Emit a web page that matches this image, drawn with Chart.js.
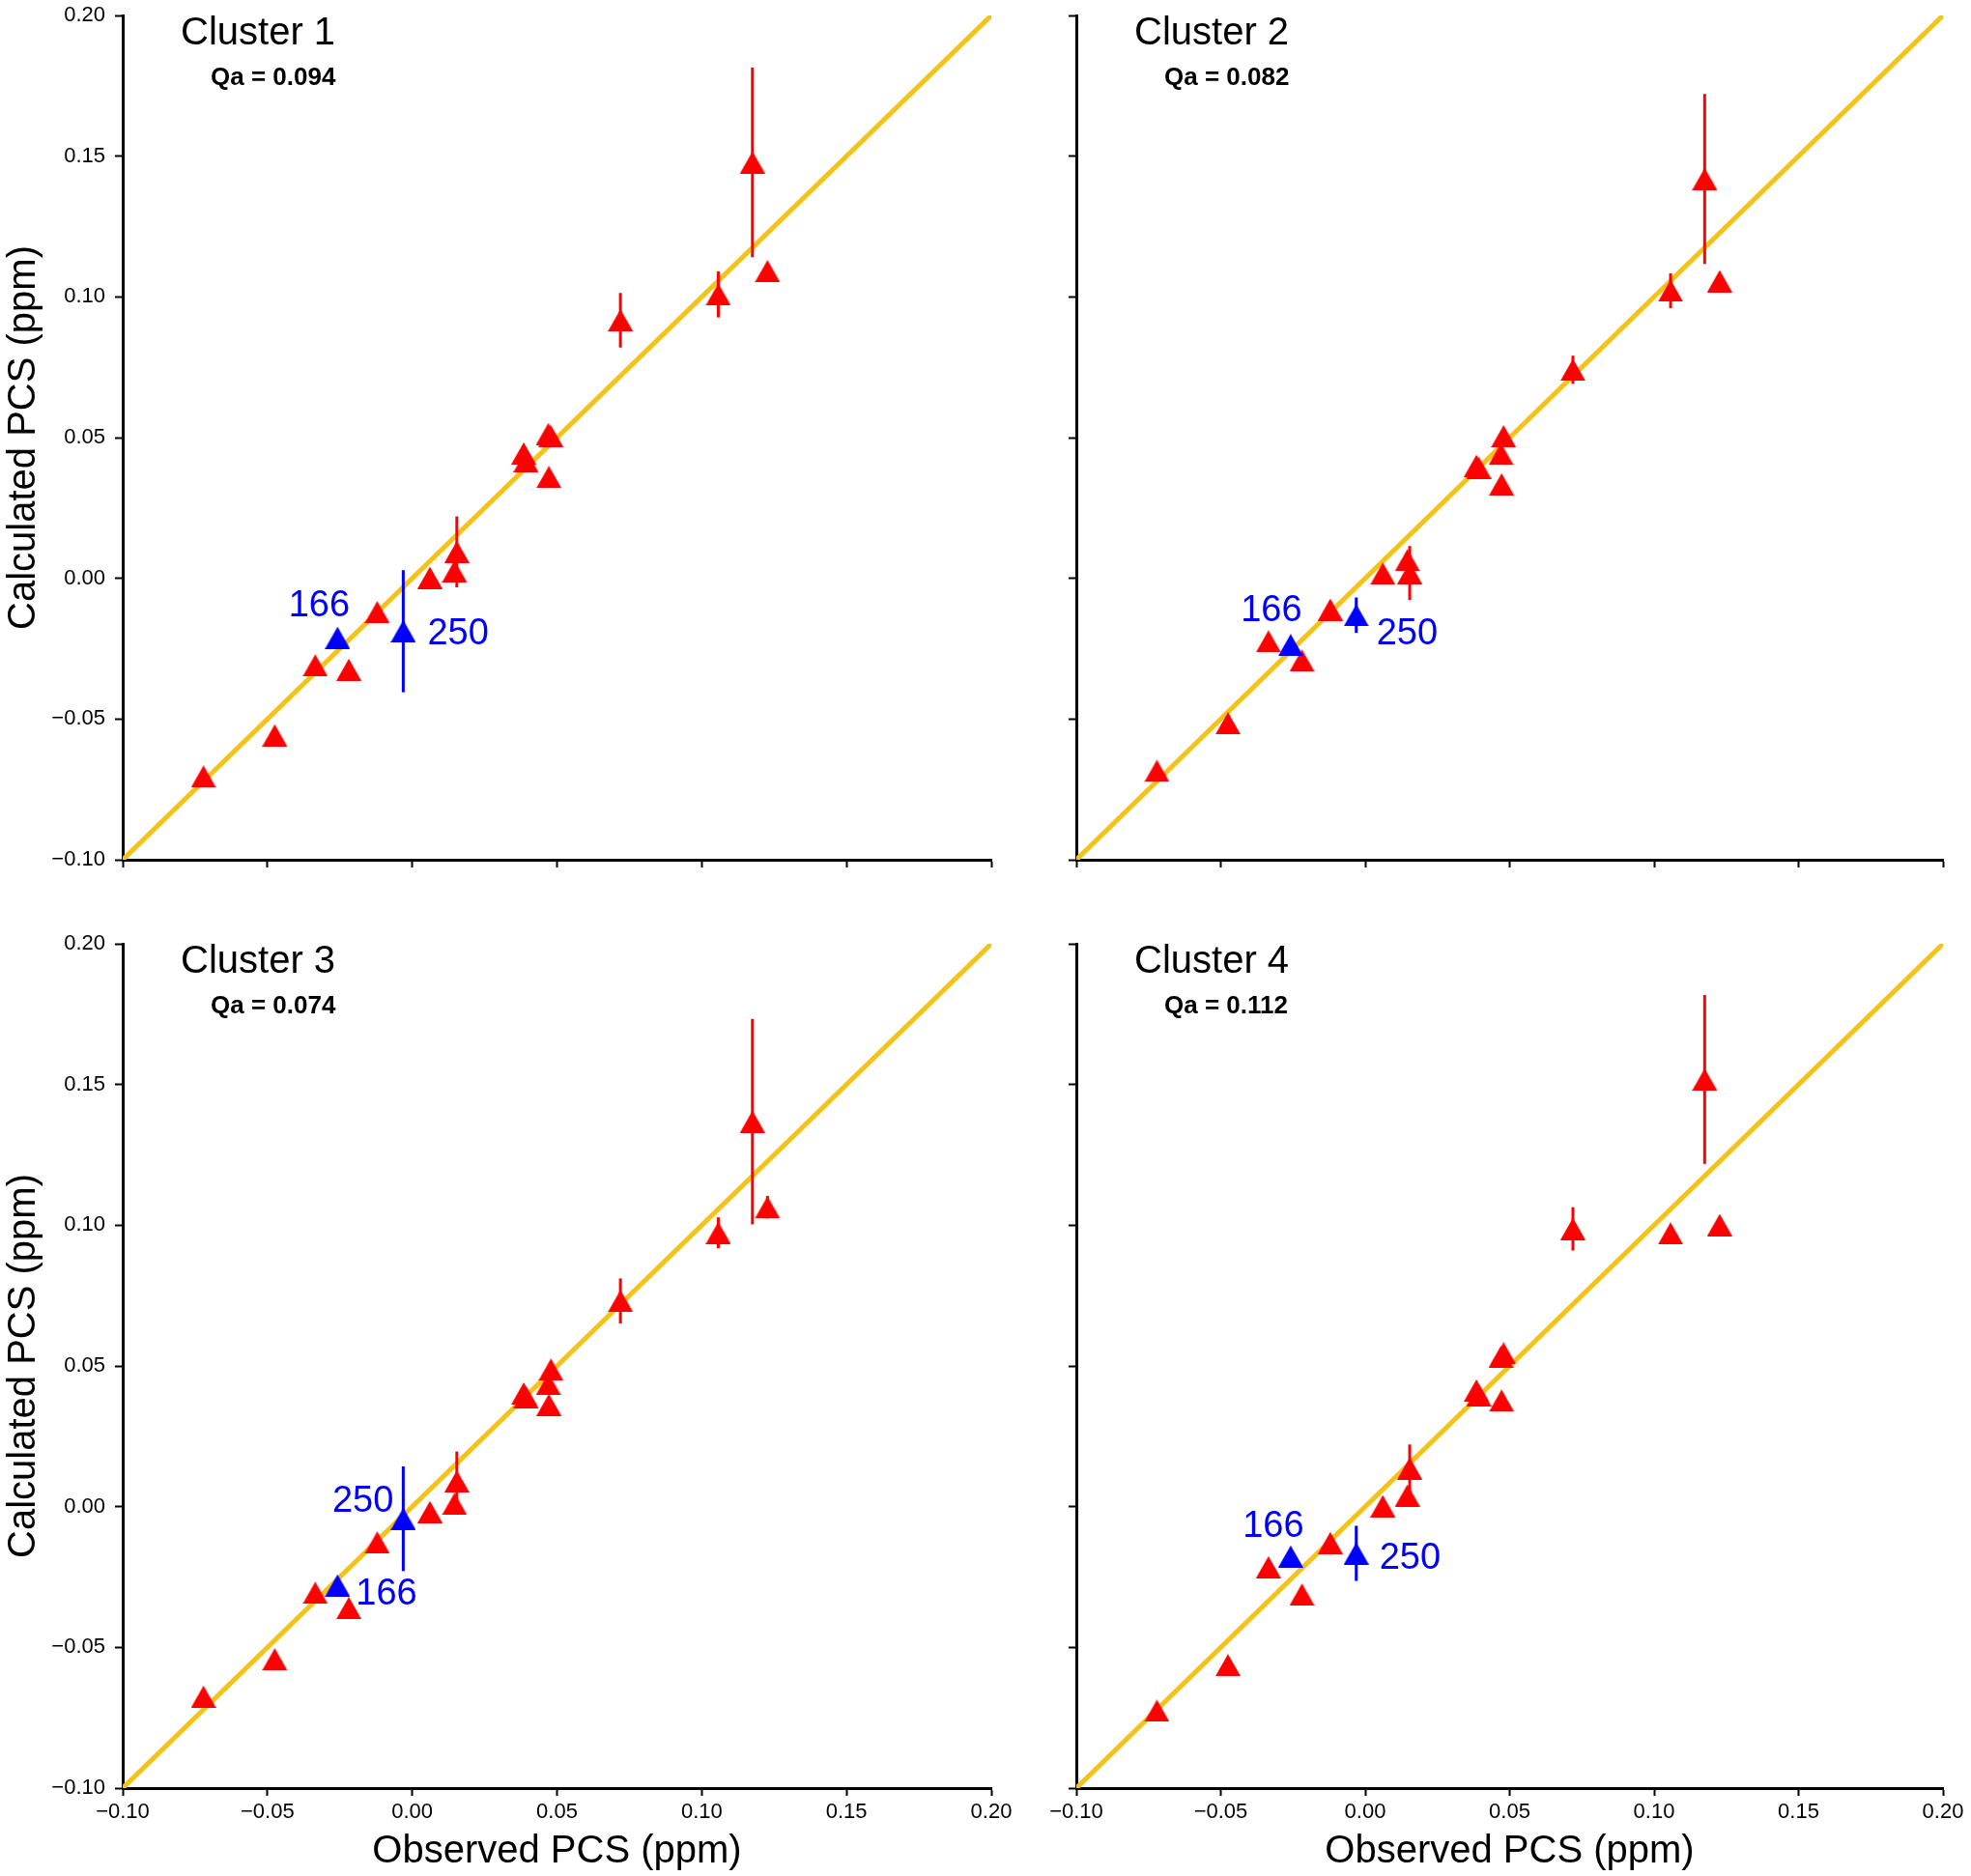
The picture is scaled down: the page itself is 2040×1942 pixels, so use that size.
<!DOCTYPE html>
<html><head><meta charset="utf-8">
<script src="https://cdn.jsdelivr.net/npm/chart.js@4.4.1/dist/chart.umd.min.js"></script>
<style>
html,body{margin:0;padding:0;background:#fff;}
body{width:2040px;height:1942px;position:relative;overflow:hidden;}
canvas{position:absolute;}
</style></head><body>
<canvas id="c1" width="1060" height="960" style="left:0px;top:0px;width:1060px;height:960px"></canvas>
<canvas id="c2" width="1000" height="960" style="left:1040px;top:0px;width:1000px;height:960px"></canvas>
<canvas id="c3" width="1060" height="982" style="left:0px;top:960px;width:1060px;height:982px"></canvas>
<canvas id="c4" width="1000" height="982" style="left:1040px;top:960px;width:1000px;height:982px"></canvas>
<script>
// ---------------- DATA ----------------
const clusterTitles = ['Cluster 1', 'Cluster 2', 'Cluster 3', 'Cluster 4'];
const qaLabels = ['Qa = 0.094', 'Qa = 0.082', 'Qa = 0.074', 'Qa = 0.112'];
const axisTicks = [-0.10, -0.05, 0.00, 0.05, 0.10, 0.15, 0.20];
const identityLine = [-0.10, 0.20];

// observed PCS (same in every cluster)
const observedRed = [-0.0721, -0.0475, -0.0335, -0.0219, -0.0121, 0.0061, 0.0146, 0.0154, 0.0385, 0.0393, 0.0470, 0.0479, 0.0472, 0.0719, 0.1057, 0.1175, 0.1227];
const blueResidues = ['166', '250'];
const observedBlue = [-0.0258, -0.0031];

// calculated PCS and errors per cluster
const cluster1Red = [-0.0704, -0.0558, -0.0309, -0.0325, -0.0120, 0.0002, 0.0025, 0.0094, 0.0444, 0.0417, 0.0513, 0.0505, 0.0360, 0.0917, 0.1009, 0.1478, 0.1092];
const cluster1RedErr = [0, 0, 0, 0, 0, 0, 0.003, 0.0126, 0, 0, 0, 0, 0, 0.0097, 0.0082, 0.0337, 0.001];
const cluster1Blue = [-0.0211, -0.0188];
const cluster1BlueErr = [0, 0.0217];

const cluster2Red = [-0.0684, -0.0515, -0.0224, -0.0292, -0.0111, 0.0017, 0.0065, 0.0019, 0.0400, 0.0393, 0.0442, 0.0505, 0.0334, 0.0741, 0.1022, 0.1419, 0.1056];
const cluster2RedErr = [0, 0, 0, 0, 0, 0, 0, 0.0096, 0, 0, 0, 0, 0, 0.005, 0.0062, 0.0302, 0];
const cluster2Blue = [-0.0237, -0.0131];
const cluster2BlueErr = [0, 0.0063];

const cluster3Red = [-0.0675, -0.0542, -0.0306, -0.0360, -0.0127, -0.0019, 0.0010, 0.0090, 0.0402, 0.0390, 0.0436, 0.0487, 0.0362, 0.0731, 0.0973, 0.1368, 0.1064];
const cluster3RedErr = [0, 0, 0, 0, 0, 0, 0, 0.0106, 0, 0, 0, 0, 0, 0.008, 0.0055, 0.0365, 0.004];
const cluster3Blue = [-0.0280, -0.0043];
const cluster3BlueErr = [0, 0.0186];

const cluster4Red = [-0.0725, -0.0563, -0.0215, -0.0312, -0.0129, 0.0002, 0.0040, 0.0136, 0.0413, 0.0396, 0.0533, 0.0545, 0.0377, 0.0987, 0.0971, 0.1518, 0.1001];
const cluster4RedErr = [0, 0, 0, 0, 0, 0, 0, 0.0085, 0, 0, 0, 0, 0, 0.0077, 0.002, 0.030, 0];
const cluster4Blue = [-0.0177, -0.0166];
const cluster4BlueErr = [0, 0.0098];

// ---------------- STYLE ----------------
const FONT = '"Liberation Sans", Arial, Helvetica, sans-serif';
const GOLD = '#F5C318';
const RED = '#FF0000';
const BLUE = '#0000FF';

function makeTriangle(color) {
  const w = 26, h = 23;
  const c = document.createElement('canvas');
  c.width = w; c.height = h;
  const g = c.getContext('2d');
  g.fillStyle = color;
  g.beginPath();
  g.moveTo(w / 2, 0); g.lineTo(w, h); g.lineTo(0, h); g.closePath();
  g.fill();
  return c;
}
const redTri = makeTriangle(RED);
const blueTri = makeTriangle(BLUE);

function fmt(v) {
  const s = Math.abs(v) < 1e-9 ? '0.00' : v.toFixed(2);
  return s.replace('-', '\u2212');
}

const panelPlugin = {
  id: 'panelDecor',
  afterDatasetDraw(chart, args) {
    if (args.index !== 0) return;
    const xs = chart.scales.x, ys = chart.scales.y, ctx = chart.ctx;
    chart.data.datasets.forEach(ds => {
      if (!ds.errors) return;
      ctx.save();
      ctx.strokeStyle = ds.errColor;
      ctx.lineWidth = 3;
      ds.data.forEach((pt, i) => {
        const e = ds.errors[i];
        if (!e) return;
        const px = xs.getPixelForValue(pt.x);
        ctx.beginPath();
        ctx.moveTo(px, ys.getPixelForValue(pt.y - e));
        ctx.lineTo(px, ys.getPixelForValue(pt.y + e));
        ctx.stroke();
      });
      ctx.restore();
    });
  },
  afterDraw(chart, args, opts) {
    const ctx = chart.ctx, a = chart.chartArea;
    ctx.save();
    ctx.fillStyle = '#000';
    ctx.textBaseline = 'middle';
    ctx.textAlign = 'left';
    ctx.font = '40px ' + FONT;
    ctx.fillText(opts.title, a.left + 60, a.top + 18.5);
    ctx.font = 'bold 26px ' + FONT;
    ctx.fillText(opts.qa, a.left + 91, a.top + 65);
    const ds = chart.data.datasets[2];
    const meta = chart.getDatasetMeta(2);
    ctx.font = '38px ' + FONT;
    ctx.fillStyle = BLUE;
    meta.data.forEach((el, i) => {
      const pl = opts.labelPlace[i];
      ctx.textAlign = pl.align;
      ctx.fillText(ds.residues[i], el.x + pl.dx, el.y + pl.dy);
    });
    ctx.restore();
  }
};

const panels = [
  { id: 'c1', title: clusterTitles[0], qa: qaLabels[0], red: cluster1Red, redErr: cluster1RedErr, blue: cluster1Blue, blueErr: cluster1BlueErr,
    xLabels: false, yLabels: true, xTitle: false, yTitle: true, yAxisW: 127, xAxisH: 70, padTop: 16, padRight: 34,
    labelPlace: [{dx: -19, dy: -33, align: 'center'}, {dx: 25, dy: 3, align: 'left'}] },
  { id: 'c2', title: clusterTitles[1], qa: qaLabels[1], red: cluster2Red, redErr: cluster2RedErr, blue: cluster2Blue, blueErr: cluster2BlueErr,
    xLabels: false, yLabels: false, xTitle: false, yTitle: false, yAxisW: 74, xAxisH: 70, padTop: 16, padRight: 29,
    labelPlace: [{dx: -20, dy: -35, align: 'center'}, {dx: 21, dy: 20, align: 'left'}] },
  { id: 'c3', title: clusterTitles[2], qa: qaLabels[2], red: cluster3Red, redErr: cluster3RedErr, blue: cluster3Blue, blueErr: cluster3BlueErr,
    xLabels: true, yLabels: true, xTitle: true, yTitle: true, yAxisW: 127, xAxisH: 91, padTop: 17, padRight: 34,
    labelPlace: [{dx: 19, dy: 9, align: 'left'}, {dx: -10, dy: -18, align: 'right'}] },
  { id: 'c4', title: clusterTitles[3], qa: qaLabels[3], red: cluster4Red, redErr: cluster4RedErr, blue: cluster4Blue, blueErr: cluster4BlueErr,
    xLabels: true, yLabels: false, xTitle: true, yTitle: false, yAxisW: 74, xAxisH: 91, padTop: 17, padRight: 29,
    labelPlace: [{dx: -18, dy: -31, align: 'center'}, {dx: 24, dy: 5, align: 'left'}] }
];

function axisCommon() {
  return {
    grid: { display: true, drawOnChartArea: false, drawTicks: true, tickLength: 8, tickWidth: 2, tickColor: '#000' },
    border: { display: true, color: '#000', width: 3 }
  };
}

panels.forEach(p => {
  new Chart(document.getElementById(p.id), {
    type: 'scatter',
    data: {
      datasets: [
        { type: 'line', label: 'identity', data: identityLine.map(v => ({x: v, y: v})),
          borderColor: GOLD, borderWidth: 5, pointRadius: 0, pointHoverRadius: 0, fill: false, tension: 0, order: 2 },
        { label: 'red', data: observedRed.map((x, i) => ({x: x, y: p.red[i]})),
          pointStyle: redTri, pointRadius: 12, pointHoverRadius: 12, order: 1,
          errors: p.redErr, errColor: RED },
        { label: 'blue', data: observedBlue.map((x, i) => ({x: x, y: p.blue[i]})),
          pointStyle: blueTri, pointRadius: 12, pointHoverRadius: 12, order: 0,
          errors: p.blueErr, errColor: BLUE, residues: blueResidues }
      ]
    },
    options: {
      responsive: false,
      animation: false,
      devicePixelRatio: 1,
      layout: { padding: { top: p.padTop, right: p.padRight, left: 0, bottom: 0 } },
      plugins: {
        legend: { display: false },
        tooltip: { enabled: false },
        panelDecor: { title: p.title, qa: p.qa, labelPlace: p.labelPlace }
      },
      scales: {
        x: Object.assign(axisCommon(), {
          type: 'linear', position: 'bottom', min: axisTicks[0], max: axisTicks[axisTicks.length - 1],
          afterFit: s => { s.height = p.xAxisH; s.paddingLeft = 0; s.paddingRight = 0; },
          afterBuildTicks: s => { s.ticks = axisTicks.map(v => ({value: v})); },
          ticks: { padding: 4, color: '#000', font: {family: FONT, size: 22}, maxRotation: 0, autoSkip: false,
                   callback: v => p.xLabels ? fmt(v) : '' },
          title: { display: p.xTitle, text: 'Observed PCS (ppm)', color: '#000',
                   font: {family: FONT, size: 40, lineHeight: 1.2}, padding: {top: 0, bottom: 1} }
        }),
        y: Object.assign(axisCommon(), {
          type: 'linear', position: 'left', min: axisTicks[0], max: axisTicks[axisTicks.length - 1],
          afterFit: s => { s.width = p.yAxisW; s.paddingTop = 0; s.paddingBottom = 0; },
          afterBuildTicks: s => { s.ticks = axisTicks.map(v => ({value: v})); },
          ticks: { padding: 10, color: '#000', font: {family: FONT, size: 22}, autoSkip: false,
                   callback: v => p.yLabels ? fmt(v) : '' },
          title: { display: p.yTitle, text: 'Calculated PCS (ppm)', color: '#000',
                   font: {family: FONT, size: 40, lineHeight: 1.1}, padding: {top: 3, bottom: 0} }
        })
      }
    },
    plugins: [panelPlugin]
  });
});
</script>
</body></html>
